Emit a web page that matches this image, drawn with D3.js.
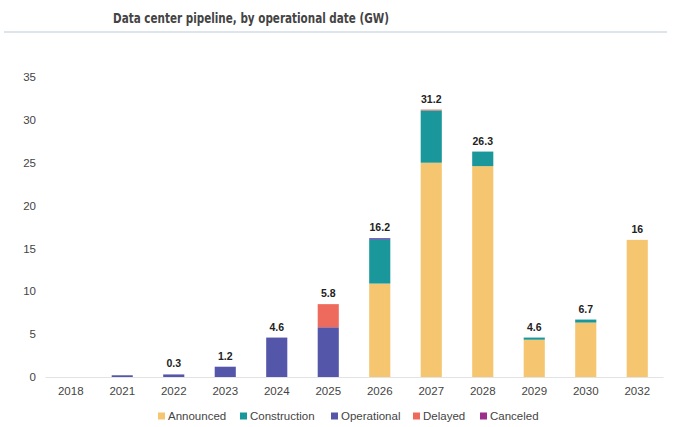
<!DOCTYPE html>
<html>
<head>
<meta charset="utf-8">
<script src="https://cdn.jsdelivr.net/npm/d3@7"></script>
<style>
  body { margin: 0; background: #fff; }
  text { font-family: "Liberation Sans", Arial, sans-serif; }
</style>
</head>
<body>
<svg id="chart" width="699" height="427"></svg>
<script>
// chart data (GW)
const years = ['2018', '2021', '2022', '2023', '2024', '2025', '2026', '2027', '2028', '2029', '2030', '2032']
const announced    = [0, 0, 0, 0, 0, 0, 10.9, 25.0, 24.6, 4.35, 6.35, 16.0]
const construction = [0, 0, 0, 0, 0, 0, 5.1, 6.1, 1.7, 0.25, 0.35, 0]
const operational  = [0, 0.2, 0.3, 1.2, 4.6, 5.8, 0.2, 0, 0, 0, 0, 0]
const delayed      = [0, 0, 0, 0, 0, 2.7, 0, 0.1, 0, 0, 0, 0]
const canceled     = [0, 0, 0, 0, 0, 0, 0, 0, 0, 0, 0, 0]
const valueLabels  = ['', '', '0.3', '1.2', '4.6', '5.8', '16.2', '31.2', '26.3', '4.6', '6.7', '16']
const yTicks = [0, 5, 10, 15, 20, 25, 30, 35]

const seriesNames = ['Announced', 'Construction', 'Operational', 'Delayed', 'Canceled']
const colors = ['#f6c56f', '#19979a', '#5457a9', '#ee6a5c', '#9c2f8e']

const rows = years.map((y, i) => ({
  year: y,
  Announced: announced[i],
  Construction: construction[i],
  Operational: operational[i],
  Delayed: delayed[i],
  Canceled: canceled[i]
}))

const svg = d3.select('#chart')

// title + rule
svg.append('text')
  .attr('x', 251)
  .attr('y', 23)
  .attr('text-anchor', 'middle')
  .style('font-family', '"DejaVu Sans Condensed", "DejaVu Sans", sans-serif')
  .style('font-weight', 'bold')
  .style('font-size', '14px')
  .attr('fill', '#444')
  .attr('textLength', 276)
  .attr('lengthAdjust', 'spacingAndGlyphs')
  .attr('x', 113)
  .attr('text-anchor', 'start')
  .text('Data center pipeline, by operational date (GW)')

svg.append('line')
  .attr('x1', 4).attr('x2', 667)
  .attr('y1', 32).attr('y2', 32)
  .attr('stroke', '#b9ccd7')
  .attr('stroke-width', 1.2)

// scales
const x = d3.scaleBand().domain(years).range([45, 663]).paddingInner(0.59).paddingOuter(0.295)
const y = d3.scaleLinear().domain([0, 35]).range([377, 77])
const color = d3.scaleOrdinal().domain(seriesNames).range(colors)

// y axis (labels only)
svg.append('g')
  .attr('transform', 'translate(40,0)')
  .call(d3.axisLeft(y).tickValues(yTicks).tickSize(0).tickPadding(4))
  .call(g => g.select('.domain').remove())
  .call(g => g.selectAll('text')
    .style('font-size', '11.5px')
    .style('font-family', '"Liberation Sans", Arial, sans-serif')
    .attr('fill', '#444'))

// x axis
svg.append('g')
  .attr('transform', 'translate(0,377)')
  .call(d3.axisBottom(x).tickSize(0).tickPadding(10))
  .call(g => g.select('.domain').attr('stroke', '#e3e3e3').attr('stroke-width', 1.2))
  .call(g => g.selectAll('text')
    .style('font-size', '11.5px')
    .style('font-family', '"Liberation Sans", Arial, sans-serif')
    .attr('fill', '#444'))

// stacked bars
const stacked = d3.stack().keys(seriesNames)(rows)

svg.append('g')
  .selectAll('g')
  .data(stacked)
  .enter()
  .append('g')
  .attr('fill', d => color(d.key))
  .selectAll('rect')
  .data(d => d)
  .enter()
  .append('rect')
  .attr('x', d => x(d.data.year))
  .attr('width', x.bandwidth())
  .attr('y', d => y(d[1]))
  .attr('height', d => y(d[0]) - y(d[1]))

// value labels above bars
svg.append('g')
  .selectAll('text')
  .data(rows)
  .enter()
  .append('text')
  .attr('x', d => x(d.year) + x.bandwidth() / 2)
  .attr('y', d => y(d3.sum(seriesNames, k => d[k])) - 7)
  .attr('text-anchor', 'middle')
  .style('font-size', '10.5px')
  .style('font-weight', 'bold')
  .attr('fill', '#222')
  .text((d, i) => valueLabels[i])

// legend
const legendX = [158, 240, 331, 413, 480]
const legend = svg.append('g')
  .selectAll('g')
  .data(seriesNames)
  .enter()
  .append('g')
  .attr('transform', (d, i) => `translate(${legendX[i]},416)`)

legend.append('rect')
  .attr('x', 0).attr('y', -3.5)
  .attr('width', 7).attr('height', 7)
  .attr('fill', d => color(d))

legend.append('text')
  .attr('x', 10)
  .attr('y', 4)
  .style('font-size', '11.5px')
  .attr('fill', '#444')
  .text(d => d)
</script>
</body>
</html>
